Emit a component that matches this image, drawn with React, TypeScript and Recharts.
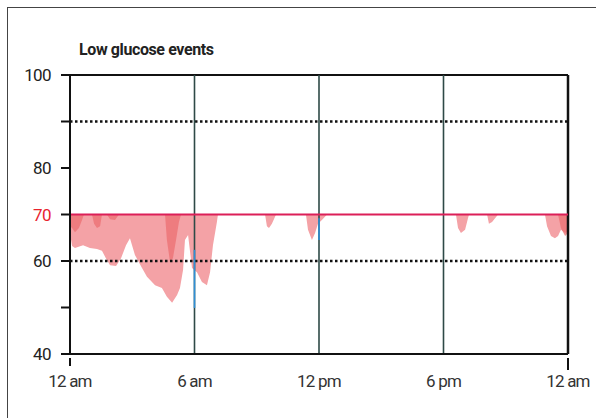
import React from "react";
import {
  Area,
  ComposedChart,
  ReferenceLine,
  XAxis,
  YAxis,
} from "recharts";

// Hours since midnight and the lowest glucose reading during each low event.
// Each event opens and closes at the 70 threshold.
const lowTimes = [
  0.0, 0.1, 0.24, 0.63, 0.96, 1.3, 1.54, 1.73, 1.93, 2.22, 2.46, 2.7, 2.89, 3.13, 3.47, 3.71,
  4.1, 4.43, 4.67, 4.92, 5.16, 5.3, 5.45, 5.54, 5.69, 5.88, 6.12, 6.36, 6.6, 6.75, 6.89, 7.08, 7.13,
  9.4, 9.49, 9.59, 9.73, 9.93,
  11.37, 11.47, 11.66, 11.81, 11.95, 12.14, 12.39,
  18.6, 18.7, 18.84, 19.04, 19.18, 19.23,
  20.1, 20.19, 20.34, 20.63,
  22.89, 22.99, 23.18, 23.37, 23.52, 23.66, 23.86, 24.0,
];
const lowValues = [
  66, 63.2, 62.8, 63.4, 62.8, 62.6, 62.2, 60.6, 59.1, 58.9, 60.6, 63.4, 64.9, 61.3, 58.5, 56.6,
  54.8, 54.2, 52.3, 51.0, 52.7, 54.2, 58.1, 64.5, 65.6, 58.5, 57.6, 55.5, 54.8, 57.6, 63.4, 68.4, 70,
  70, 67.5, 67.1, 68, 70,
  70, 66.7, 64.5, 66, 68, 68.8, 70,
  70, 67.1, 66, 66.7, 69.2, 70,
  70, 68, 68.4, 70,
  70, 67.5, 65.4, 64.9, 65.4, 66.7, 66, 66.4,
];

// Denser overlapping readings (darker red patches)
const denseTimes = [
  0.0, 0.1, 0.24, 0.43, 0.58, 0.67,
  1.06, 1.16, 1.3, 1.45, 1.54,
  1.78, 1.93, 2.17, 2.36,
  4.58, 4.67, 4.82, 4.96, 5.11, 5.25, 5.35,
  23.52, 23.66, 23.86, 24.0,
];
const denseValues = [
  67.5, 67.1, 66.2, 67.1, 68.8, 70,
  70, 68, 67.1, 67.5, 70,
  70, 69, 68.8, 70,
  70, 64.5, 59.8, 60.6, 64.5, 68.4, 70,
  70, 67.1, 65.4, 66,
];

// Trace marks where the sensor line crosses the day dividers
const traceHours = [6, 12];
const traceFrom = [62.4, 69.2];
const traceTo = [49.9, 64.5];

const yTicks = [40, 50, 60, 70, 80, 90, 100];
const yLabelled = [40, 60, 70, 80, 100];
const xTicks = [0, 6, 12, 18, 24];
const xLabels = ["12 am", "6 am", "12 pm", "6 pm", "12 am"];
const threshold = 70;

const FONT = "Roboto, 'Liberation Sans', sans-serif";

type Row = { t: number; band?: [number, number] | null; dense?: [number, number] | null };

const timeline = Array.from(new Set([...lowTimes, ...denseTimes])).sort((a, b) => a - b);
const rows: Row[] = timeline.map((t) => {
  const i = lowTimes.indexOf(t);
  const j = denseTimes.indexOf(t);
  return {
    t,
    band: i >= 0 ? [lowValues[i], threshold] : null,
    dense: j >= 0 ? [denseValues[j], threshold] : null,
  };
});

function YTick(props: any) {
  const { x, y, payload } = props;
  const v = payload.value as number;
  if (!yLabelled.includes(v)) return null;
  return (
    <text
      x={x - 8}
      y={y}
      dy={6}
      textAnchor="end"
      fontFamily={FONT}
      fontSize={17}
      letterSpacing={-0.6}
      fill={v === threshold ? "#e8232e" : "#222"}
    >
      {v}
    </text>
  );
}

function XTick(props: any) {
  const { x, y, payload, index } = props;
  const isEnd = payload.value === 0 || payload.value === 24;
  return (
    <g>
      {isEnd && <line x1={x} x2={x} y1={y - 4} y2={y + (payload.value === 24 ? 8 : 4)} stroke="#111" strokeWidth={2} />}
      <text
        x={x}
        y={y + 25}
        textAnchor="middle"
        fontFamily={FONT}
        fontSize={17}
        letterSpacing={-0.8}
        fill="#333"
      >
        {xLabels[index]}
      </text>
    </g>
  );
}

export default function App() {
  return (
    <div style={{ position: "absolute", left: 0, top: 0, width: 596, height: 418, background: "#fff", overflow: "hidden" }}>
      <div
        style={{
          position: "absolute",
          left: 7,
          top: 7,
          width: 620,
          height: 440,
          borderTop: "1.5px solid #444",
          borderLeft: "1.5px solid #444",
        }}
      />
      <div
        style={{
          position: "absolute",
          left: 79,
          top: 40,
          fontFamily: FONT,
          fontWeight: 700,
          fontSize: 16,
          letterSpacing: -0.4,
          color: "#222",
        }}
      >
        Low glucose events
      </div>
      <div style={{ position: "absolute", left: 0, top: 0 }}>
        <ComposedChart
          width={596}
          height={418}
          data={rows}
          margin={{ top: 75, right: 28, bottom: 34, left: 10 }}
        >
          <XAxis
            dataKey="t"
            type="number"
            domain={[0, 24]}
            ticks={xTicks}
            tick={<XTick />}
            tickLine={false}
            axisLine={{ stroke: "#111", strokeWidth: 2 }}
            height={30}
            interval={0}
          />
          <YAxis
            type="number"
            domain={[40, 100]}
            ticks={yTicks}
            tick={<YTick />}
            tickSize={9}
            tickLine={{ stroke: "#111", strokeWidth: 2 }}
            axisLine={{ stroke: "#111", strokeWidth: 2 }}
            width={60}
            interval={0}
            allowDataOverflow
          />
          <Area
            dataKey="band"
            type="linear"
            stroke="none"
            fill="#f4a2a6"
            fillOpacity={1}
            connectNulls
            isAnimationActive={false}
          />
          <Area
            dataKey="dense"
            type="linear"
            stroke="none"
            fill="#ec6f72"
            fillOpacity={0.75}
            connectNulls
            isAnimationActive={false}
          />
          <ReferenceLine y={100} stroke="#111" strokeWidth={2} />
          <ReferenceLine y={90} stroke="#111" strokeWidth={2.5} strokeDasharray="2.5 2.5" />
          <ReferenceLine y={60} stroke="#111" strokeWidth={2.5} strokeDasharray="2.5 2.5" />
          {[6, 12, 18].map((h) => (
            <ReferenceLine key={h} x={h} stroke="#2e4a47" strokeWidth={1.6} />
          ))}
          {traceHours.map((h, i) => (
            <ReferenceLine
              key={`tr${h}`}
              segment={[
                { x: h, y: traceFrom[i] },
                { x: h, y: traceTo[i] },
              ]}
              stroke="#2f8fd6"
              strokeWidth={1.6}
            />
          ))}
          <ReferenceLine x={24} stroke="#111" strokeWidth={2.5} />
          <ReferenceLine y={threshold} stroke="#dc1f58" strokeWidth={2} />
        </ComposedChart>
      </div>
    </div>
  );
}
